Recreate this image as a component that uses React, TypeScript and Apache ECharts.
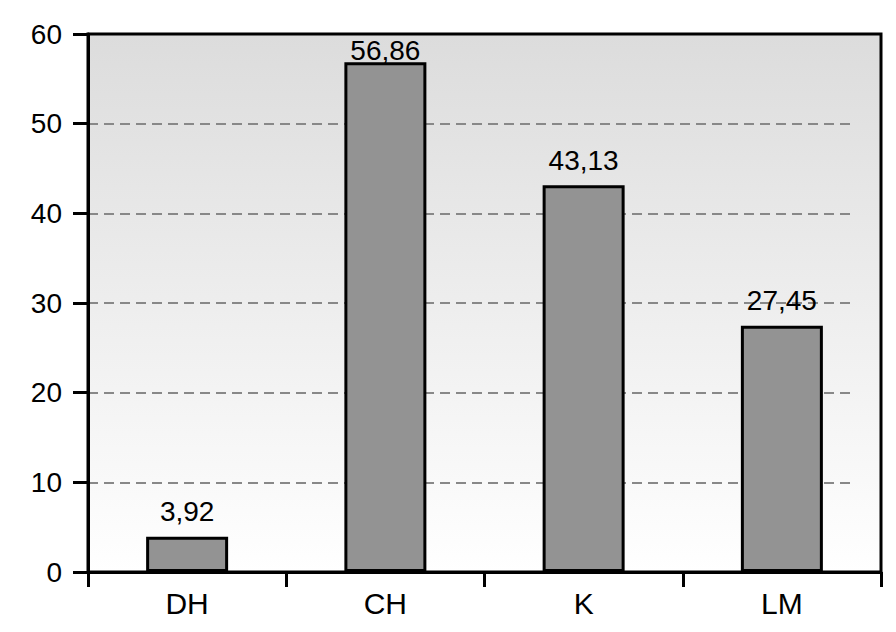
import React, { useEffect, useRef } from "react";
import * as echarts from "echarts";

const categories = ["DH", "CH", "K", "LM"];
const values = [3.92, 56.86, 43.13, 27.45];
const valueLabels = ["3,92", "56,86", "43,13", "27,45"];
const yTicks = [0, 10, 20, 30, 40, 50, 60];

const FONT = "Liberation Sans";

export default function App() {
  const ref = useRef<HTMLDivElement>(null);
  useEffect(() => {
    if (!ref.current) return;
    const chart = echarts.init(ref.current, null, { renderer: "svg" });
    const gTop = 34;
    const gBottom = 60;
    const plotH = 632 - gTop - gBottom;
    const step = plotH / (yTicks[yTicks.length - 1] - yTicks[0]);
    chart.setOption({
      animation: false,
      backgroundColor: "#ffffff",
      grid: [
        {
          left: 88,
          right: 15,
          top: gTop,
          bottom: gBottom,
          show: true,
          z: 0,
          borderColor: "#000",
          borderWidth: 3,
          backgroundColor: new echarts.graphic.LinearGradient(0, 0, 0, 1, [
            { offset: 0, color: "#dcdcdc" },
            { offset: 1, color: "#ffffff" },
          ]),
        },
        {
          left: 88,
          right: 46,
          top: gTop + step * 10,
          bottom: gBottom + step * 10,
          show: false,
        },
      ],
      xAxis: [
        {
          type: "category",
          data: categories,
          gridIndex: 0,
          z: 3,
          axisLine: { show: true, lineStyle: { color: "#000", width: 3 } },
          axisTick: { show: true, length: 15, lineStyle: { color: "#000", width: 3 } },
          axisLabel: {
            color: "#000",
            fontFamily: FONT,
            fontSize: 30,
            margin: 16,
          },
        },
        { type: "value", gridIndex: 1, show: false, min: 0, max: 1 },
      ],
      yAxis: [
        {
          type: "value",
          gridIndex: 0,
          min: 0,
          max: 60,
          interval: 10,
          z: 3,
          axisLine: { show: true, lineStyle: { color: "#000", width: 3 } },
          axisTick: { show: true, length: 15, lineStyle: { color: "#000", width: 3 } },
          splitLine: { show: false },
          axisLabel: {
            color: "#000",
            fontFamily: FONT,
            fontSize: 28,
            margin: 26,
          },
        },
        {
          type: "value",
          gridIndex: 1,
          min: 10,
          max: 50,
          interval: 10,
          z: 1,
          axisLine: { show: false },
          axisTick: { show: false },
          axisLabel: { show: false },
          splitLine: {
            show: true,
            lineStyle: { color: "#888888", width: 2, type: [10, 6] },
          },
        },
      ],
      series: [
        {
          type: "bar",
          xAxisIndex: 0,
          yAxisIndex: 0,
          z: 2,
          barWidth: 82,
          data: values.map((v, i) => ({
            value: v,
            label: {
              formatter: valueLabels[i],
              distance: i === 1 ? -2 : 11,
            },
          })),
          itemStyle: { color: "#939393", borderColor: "#000", borderWidth: 3 },
          label: {
            show: true,
            position: "top",
            color: "#000",
            fontFamily: FONT,
            fontSize: 28,
          },
        },
      ],
    });
    return () => chart.dispose();
  }, []);
  return <div ref={ref} style={{ width: 896, height: 632, position: "absolute", left: 0, top: 0 }} />;
}
